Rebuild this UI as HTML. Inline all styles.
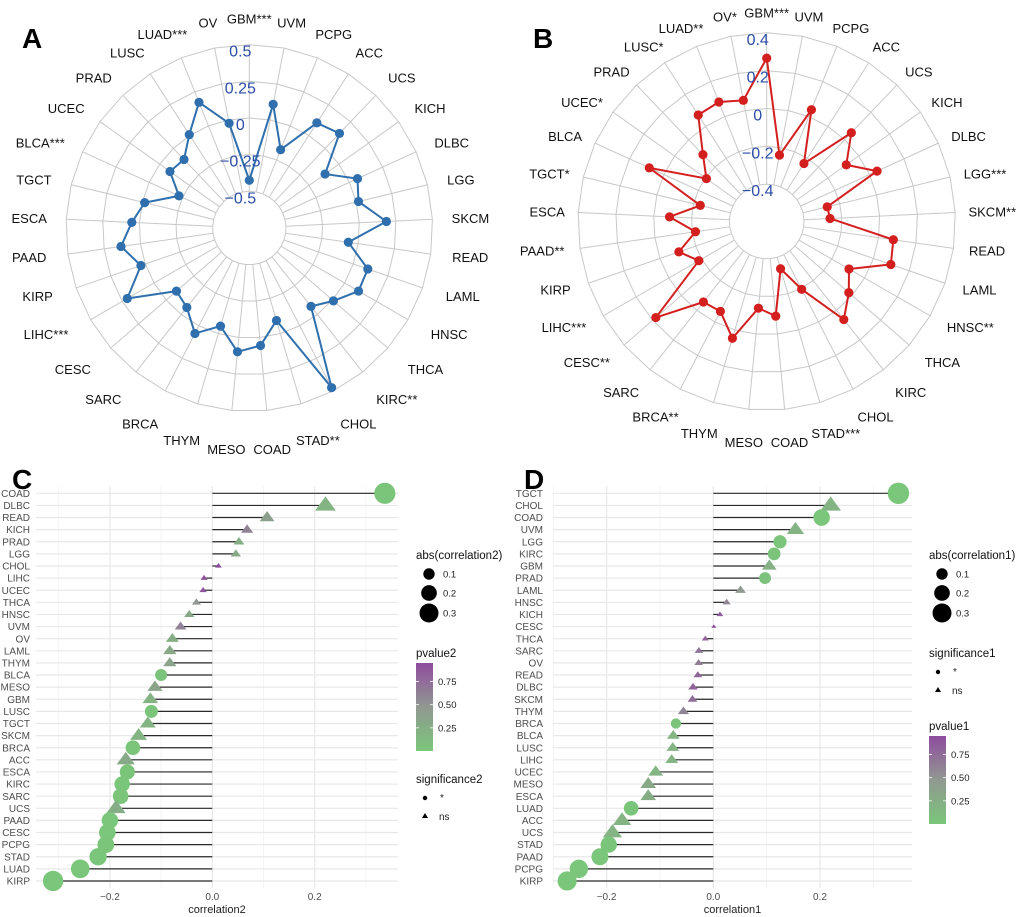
<!DOCTYPE html>
<html><head><meta charset="utf-8">
<style>
html,body{margin:0;padding:0;background:#fff;}
svg{display:block;font-family:"Liberation Sans",Arial,sans-serif;}
</style></head>
<body>
<svg id="fig" width="1020" height="917" viewBox="0 0 1020 917" xmlns="http://www.w3.org/2000/svg">
<rect width="1020" height="917" fill="#fff"/>
<text x="22" y="48" font-size="28" font-weight="bold">A</text>
<text x="533" y="48" font-size="28" font-weight="bold">B</text>
<text x="12" y="489" font-size="28" font-weight="bold">C</text>
<text x="524" y="489" font-size="28" font-weight="bold">D</text>
</svg>
<script>
const radarCats = ["GBM","UVM","PCPG","ACC","UCS","KICH","DLBC","LGG","SKCM","READ","LAML","HNSC","THCA","KIRC","CHOL","STAD","COAD","MESO","THYM","BRCA","SARC","CESC","LIHC","KIRP","PAAD","ESCA","TGCT","BLCA","UCEC","PRAD","LUSC","LUAD","OV"];
const radarAStars = ["***","","","","","","","","","","","","","**","","**","","","","","","","***","","","","","***","","","","***",""];
const radarBStars = ["***","","","","","","","***","**","","","**","","","","***","","","","**","","**","***","","**","","*","","*","","*","**","*"];
const radarAVals = [-0.425,0.109,-0.175,0.102,0.141,-0.116,0.061,0.016,0.186,-0.068,0.105,0.11,0.009,-0.07,0.475,-0.093,0.055,0.098,-0.053,0.059,-0.061,-0.093,0.211,0.032,0.134,0.052,-0.016,-0.223,-0.086,-0.105,0.007,0.173,-0.023];
const radarBVals = [0.266,-0.24,0.039,-0.233,0.051,-0.081,0.044,-0.268,-0.262,0.079,0.097,-0.095,-0.023,0.062,-0.194,-0.337,-0.095,-0.137,0.046,-0.063,-0.056,0.178,-0.183,-0.106,-0.217,-0.083,-0.236,0.085,-0.206,-0.109,0.072,0.083,0.055];
const radarATicks = [-0.5,-0.25,0,0.25,0.5];
const radarATickLabels = ["\u22120.5","\u22120.25","0","0.25","0.5"];
const radarBTicks = [-0.4,-0.2,0,0.2,0.4];
const radarBTickLabels = ["\u22120.4","\u22120.2","0","0.2","0.4"];

const lolCCats = ["COAD","DLBC","READ","KICH","PRAD","LGG","CHOL","LIHC","UCEC","THCA","HNSC","UVM","OV","LAML","THYM","BLCA","MESO","GBM","LUSC","TGCT","SKCM","BRCA","ACC","ESCA","KIRC","SARC","UCS","PAAD","CESC","PCPG","STAD","LUAD","KIRP"];
const lolCVals = [0.337,0.221,0.107,0.068,0.052,0.046,0.012,-0.016,-0.018,-0.031,-0.045,-0.062,-0.078,-0.083,-0.083,-0.1,-0.112,-0.121,-0.119,-0.126,-0.144,-0.155,-0.169,-0.166,-0.176,-0.179,-0.188,-0.2,-0.205,-0.208,-0.223,-0.258,-0.311];
const lolCSig = [1,0,0,0,0,0,0,0,0,0,0,0,0,0,0,1,0,0,1,0,0,1,0,1,1,1,0,1,1,1,1,1,1];
const lolCP = [0.01,0.2,0.4,0.62,0.25,0.3,0.95,0.9,0.9,0.5,0.3,0.62,0.25,0.3,0.35,0.03,0.35,0.2,0.02,0.2,0.2,0.01,0.3,0.01,0.001,0.01,0.25,0.001,0.001,0.01,0,0,0];

const lolDCats = ["TGCT","CHOL","COAD","UVM","LGG","KIRC","GBM","PRAD","LAML","HNSC","KICH","CESC","THCA","SARC","OV","READ","DLBC","SKCM","THYM","BRCA","BLCA","LUSC","LIHC","UCEC","MESO","ESCA","LUAD","ACC","UCS","STAD","PAAD","PCPG","KIRP"];
const lolDVals = [0.347,0.22,0.203,0.154,0.125,0.114,0.105,0.097,0.051,0.025,0.0125,0.001,-0.015,-0.027,-0.0275,-0.029,-0.038,-0.039,-0.056,-0.07,-0.075,-0.076,-0.078,-0.108,-0.122,-0.122,-0.154,-0.171,-0.189,-0.196,-0.2125,-0.252,-0.274];
const lolDSig = [1,0,1,0,1,1,0,1,0,0,0,0,0,0,0,0,0,0,0,1,0,0,0,0,0,0,1,0,0,1,1,1,1];
const lolDP = [0,0.2,0,0.2,0.02,0.03,0.22,0.04,0.45,0.6,0.85,0.97,0.8,0.7,0.65,0.8,0.8,0.75,0.6,0.03,0.2,0.2,0.2,0.2,0.3,0.25,0.01,0.2,0.2,0.01,0,0,0];
const lolTicks = [-0.2,0,0.2];
const lolTickLabels = ["\u22120.2","0.0","0.2"];
const sizeLegendVals = [0.1,0.2,0.3];
const pLegendVals = [0.25,0.5,0.75];

const NS="http://www.w3.org/2000/svg";
const svg=document.getElementById('fig');
function mk(tag,attrs,parent){const e=document.createElementNS(NS,tag);for(const k in attrs)e.setAttribute(k,attrs[k]);(parent||svg).appendChild(e);return e;}

function radar(cx,cy,vals,stars,ticks,tickLabels,vmin,vmax,r0,r1,color,prefix,lblOff){
  const g=mk('g',{});
  
  
  const n=radarCats.length;
  const rs=v=>r0+(v-vmin)/(vmax-vmin)*(r1-r0);
  const ang=i=>i*2*Math.PI/n;
  const pt=(i,r)=>[cx+r*Math.sin(ang(i)),cy-r*Math.cos(ang(i))];
  ticks.forEach((t,j)=>{
    const pts=[];for(let i=0;i<n;i++)pts.push(pt(i,rs(t)).join(','));
    const p=mk('polygon',{points:pts.join(' '),fill:'none',stroke:'#c8c8c8','stroke-width':1},g);
    
    
  });
  for(let i=0;i<n;i++){
    const a=pt(i,rs(vmin)),b=pt(i,rs(vmax));
    const l=mk('line',{x1:a[0],y1:a[1],x2:b[0],y2:b[1],stroke:'#c8c8c8','stroke-width':1},g);
    
    
  }
  const lp=vals.map((v,i)=>pt(i,rs(v)).join(','));
  const line=mk('polygon',{points:lp.join(' '),fill:'none',stroke:color,'stroke-width':2,'stroke-linejoin':'round'},g);
  
  
  vals.forEach((v,i)=>{
    const p=pt(i,rs(v));
    const c=mk('circle',{cx:p[0],cy:p[1],r:4.6,fill:color},g);
    
    
  });
  ticks.forEach((t,j)=>{
    const tx=mk('text',{x:cx-9,y:cy-rs(t)+12,'text-anchor':'middle','font-size':16,fill:'#2b4ea8'},g);
    tx.textContent=tickLabels[j];
    
    
  });
  radarCats.forEach((c,i)=>{
    const s=Math.sin(ang(i)),co=Math.cos(ang(i));
    const R=r1+lblOff+(co<0?20*(-co):7*co);
    const x=cx+R*s,y=cy-R*co;
    const tx=mk('text',{x:x,y:y+4.7,'font-size':13,fill:'#111'},g);
    tx.textContent=c+stars[i];
    
    
    const w=tx.getComputedTextLength();
    tx.setAttribute('x',x-w*(0.5-0.5*s));
  });
}
radar(249.3,228,radarAVals,radarAStars,radarATicks,radarATickLabels,-0.5,0.5,36.7,183.3,'#2f6fad','a',19);
radar(766.7,221.5,radarBVals,radarBStars,radarBTicks,radarBTickLabels,-0.4,0.4,37.3,188.7,'#d41f1f','b',13);

function pcol(p){
  const st=[[0,[122,198,122]],[0.5,[146,150,146]],[1,[142,68,160]]];
  let a=st[0],b=st[1];if(p>0.5){a=st[1];b=st[2];}
  const t=(p-a[0])/(b[0]-a[0]);
  const c=a[1].map((v,k)=>Math.round(v+(b[1][k]-v)*t));
  return 'rgb('+c.join(',')+')';
}
function sz(v){return Math.sqrt(4+320*Math.abs(v));}

function lollipop(cats,vals,sig,pv,zeroX,k,xL,xR,lblX,prefix,title,legX,sigFirst){
  const g=mk('g',{});
  
  
  const xs=v=>zeroX+v*k;
  const ys=i=>493.3+i*12.115;
  const yTop=486,yBot=888;
  [-0.3,-0.1,0.1,0.3].forEach(v=>{const x=xs(v);if(x>xL&&x<xR){const l=mk('line',{x1:x,x2:x,y1:yTop,y2:yBot,stroke:'#f2f2f2','stroke-width':0.8},g);}});
  lolTicks.forEach(v=>{const x=xs(v);const l=mk('line',{x1:x,x2:x,y1:yTop,y2:yBot,stroke:'#e8e8e8','stroke-width':1.2},g);});
  cats.forEach((c,i)=>{const l=mk('line',{x1:xL,x2:xR,y1:ys(i),y2:ys(i),stroke:'#e8e8e8','stroke-width':1.2},g);});
  cats.forEach((c,i)=>{
    const l=mk('line',{x1:xs(0),x2:xs(vals[i]),y1:ys(i),y2:ys(i),stroke:'#2a2a2a','stroke-width':1.2},g);
    
    
  });
  cats.forEach((c,i)=>{
    const x=xs(vals[i]),y=ys(i),r=sz(vals[i]),col=pcol(pv[i]);
    let m;
    if(sig[i]) m=mk('circle',{cx:x,cy:y,r:r,fill:col},g);
    else m=mk('polygon',{points:[x+','+(y-1.05*r),(x-1.2*r)+','+(y+0.6*r),(x+1.2*r)+','+(y+0.6*r)].join(' '),fill:col},g);
    
    
    const t=mk('text',{x:lblX,y:ys(i)+3.6,'text-anchor':'end','font-size':10,fill:'#4d4d4d'},g);
    t.textContent=c;
    
    
  });
  lolTicks.forEach((v,j)=>{
    const t=mk('text',{x:xs(v),y:900,'text-anchor':'middle','font-size':10,fill:'#4d4d4d'},g);
    t.textContent=lolTickLabels[j];
    
    
  });
  const tt=mk('text',{x:(xL+xR)/2,y:913,'text-anchor':'middle','font-size':11,fill:'#222'},g);
  tt.textContent='correlation'+title;
  
  
  const lg=mk('g',{},g);
  
  
  const t1=mk('text',{x:legX,y:559,'font-size':11.5,fill:'#111'},lg);
  t1.textContent='abs(correlation'+title+')';
  
  
  const sy=[574,593,613];
  sizeLegendVals.forEach((v,j)=>{
    const c=mk('circle',{cx:legX+13,cy:sy[j],r:sz(v)*0.95,fill:'#000'},lg);
    
    
    const t=mk('text',{x:legX+27,y:sy[j]+3.5,'font-size':9.5,fill:'#222'},lg);
    t.textContent=v.toFixed(1);
    
    
  });
  let pY, sY;
  if(sigFirst){sY=653;pY=726;} else {pY=653;sY=779;}
  const t2=mk('text',{x:legX,y:pY+4,'font-size':11.5,fill:'#111'},lg);
  t2.textContent='pvalue'+title;
  
  
  const gid=prefix+'grad';
  const defs=mk('defs',{},lg);
  const lgd=mk('linearGradient',{id:gid,x1:0,y1:1,x2:0,y2:0},defs);
  [0,0.25,0.5,0.75,1].forEach(o=>mk('stop',{offset:o,'stop-color':pcol(o*0.95)},lgd));
  const bt=pY+10,bb=pY+98;
  const bar=mk('rect',{x:legX,y:bt,width:17,height:bb-bt,fill:'url(#'+gid+')'},lg);
  
  
  const py=p=>bb-(p/0.95)*(bb-bt);
  pLegendVals.forEach(p=>{
    mk('line',{x1:legX,x2:legX+3,y1:py(p),y2:py(p),stroke:'#fff','stroke-width':0.8},lg);
    mk('line',{x1:legX+14,x2:legX+17,y1:py(p),y2:py(p),stroke:'#fff','stroke-width':0.8},lg);
    const t=mk('text',{x:legX+22,y:py(p)+3.5,'font-size':9.5,fill:'#222'},lg);
    t.textContent=p.toFixed(2);
    
    
  });
  const t3=mk('text',{x:legX,y:sY+4,'font-size':11.5,fill:'#111'},lg);
  t3.textContent='significance'+title;
  
  
  const c1=mk('circle',{cx:legX+9,cy:sY+19,r:2.2,fill:'#000'},lg);
  
  
  const s1=mk('text',{x:legX+24,y:sY+22,'font-size':10,fill:'#222'},lg);s1.textContent='*';
  
  
  const tr=mk('polygon',{points:(legX+9)+','+(sY+34)+' '+(legX+6)+','+(sY+39)+' '+(legX+12)+','+(sY+39),fill:'#000'},lg);
  
  
  const s2=mk('text',{x:legX+23,y:sY+41,'font-size':10,fill:'#222'},lg);s2.textContent='ns';
  
  
}
lollipop(lolCCats,lolCVals,lolCSig,lolCP,212.3,512,36,398,30,'c','2',416,false);
lollipop(lolDCats,lolDVals,lolDSig,lolDP,713.3,533.5,553,912,543,'d','1',929,true);
</script>
</body></html>
